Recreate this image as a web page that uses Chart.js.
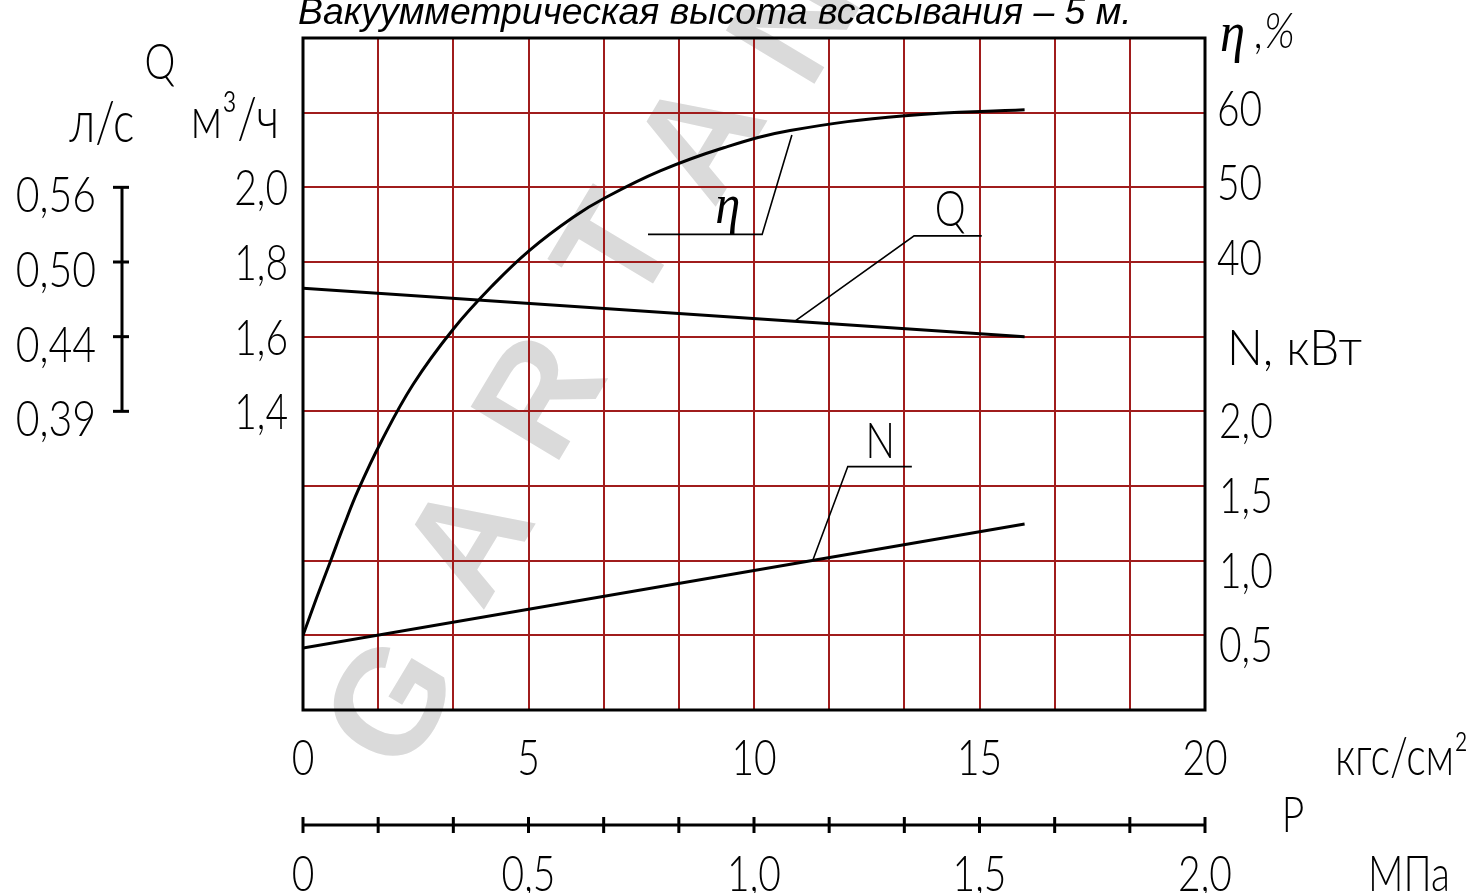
<!DOCTYPE html>
<html><head><meta charset="utf-8">
<script src="https://cdn.jsdelivr.net/npm/chart.js@4/dist/chart.umd.min.js"></script>
<style>html,body{margin:0;padding:0;background:#fff;overflow:hidden}#wrap{position:relative;width:1482px;height:893px}</style>
</head><body><div id="wrap"><canvas id="c" width="1482" height="893"></canvas></div>
<script>
// ---- data ----
const pressureEta = [0, 0.3, 0.62, 0.9, 1.22, 1.73, 2.44, 3.33, 4.21, 5.03, 5.99, 6.7, 7.92, 9.33, 10.8, 13.35, 16.0];
const efficiency  = [-10, -5.0, 0.1, 4.6, 9.4, 15.9, 23.6, 31.0, 36.9, 41.6, 46.0, 48.6, 52.2, 55.3, 57.6, 59.6, 60.4];
const pressureQ = [0, 16];
const flowQ     = [1.73, 1.60];
const pressureN = [0, 16];
const powerN    = [0.415, 1.245];

const pressureTicks = [0, 5, 10, 15, 20];
const mpaTicks      = [0, 0.5, 1.0, 1.5, 2.0];
const mpaTickLabels = ['0', '0,5', '1,0', '1,5', '2,0'];
const qTicks        = [2.0, 1.8, 1.6, 1.4];
const qTickLabels   = ['2,0', '1,8', '1,6', '1,4'];
const qLsLabels     = ['0,56', '0,50', '0,44', '0,39'];
const etaTicks      = [60, 50, 40];
const nTicks        = [2.0, 1.5, 1.0, 0.5];
const nTickLabels   = ['2,0', '1,5', '1,0', '0,5'];

// grid divisions (12 vertical, 9 horizontal)
const xGridValues = Array.from({length: 13}, (_, i) => i * 20 / 12);
const mpaMinor    = Array.from({length: 13}, (_, i) => i * 2 / 12);
const nGridValues = Array.from({length: 10}, (_, i) => i * 0.5);

// leader lines (data units)
const etaLeader = [[7.65, 43.7], [10.18, 43.7], [10.84, 57.0]];
const etaLabelAt = [9.42, 46.8];
const qLeader = [[10.9, 1.641], [13.55, 1.87], [15.05, 1.87]];
const qLabelAt = [14.35, 1.945];
const nLeader = [[11.3, 1.0], [12.08, 1.63], [13.5, 1.63]];
const nLabelAt = [12.8, 1.81];

const GRID = 'rgb(160,28,28)';
const FONT = "Lato, 'DejaVu Sans', sans-serif";

function txt(ctx, s, x, cy, o = {}) {
  const size = o.size || 50, sx = o.sx || 0.78;
  ctx.save();
  ctx.translate(x, cy + (o.dy !== undefined ? o.dy : 18));
  ctx.scale(sx, 1);
  ctx.font = `${o.style || 'normal'} ${o.weight || 300} ${size}px ${o.font || FONT}`;
  ctx.textAlign = o.align || 'center';
  ctx.textBaseline = 'alphabetic';
  ctx.fillStyle = o.color || '#000';
  ctx.fillText(s, 0, 0);
  ctx.restore();
}
function poly(ctx, pts, w) {
  ctx.save(); ctx.strokeStyle = '#000'; ctx.lineWidth = w; ctx.lineJoin = 'miter';
  ctx.beginPath(); pts.forEach((p, i) => i ? ctx.lineTo(p[0], p[1]) : ctx.moveTo(p[0], p[1])); ctx.stroke(); ctx.restore();
}

const watermark = {
  id: 'watermark',
  beforeDraw(chart) {
    const ctx = chart.ctx, a = chart.chartArea;
    const W = a.right - a.left, H = a.bottom - a.top;
    const letters = [['G', 0.105, 0.995], ['A', 0.19, 0.755], ['R', 0.27, 0.54], ['T', 0.355, 0.32], ['A', 0.447, 0.155], ['N', 0.553, -0.02]];
    ctx.save();
    ctx.fillStyle = 'rgb(218,218,218)';
    ctx.font = `bold 150px 'Liberation Sans', Arial, sans-serif`;
    ctx.textAlign = 'center'; ctx.textBaseline = 'middle';
    letters.forEach(([ch, fx, fy]) => {
      ctx.save();
      ctx.translate(a.left + fx * W, a.top + fy * H);
      ctx.rotate(-59 * Math.PI / 180);
      ctx.fillText(ch, 0, 0);
      ctx.restore();
    });
    ctx.restore();
  }
};

const decor = {
  id: 'decor',
  afterDraw(chart) {
    const ctx = chart.ctx, a = chart.chartArea;
    const {x, xM, yN, yEta, yQ} = chart.scales;
    // frame
    ctx.save(); ctx.strokeStyle = '#000'; ctx.lineWidth = 3;
    ctx.strokeRect(a.left, a.top, a.right - a.left, a.bottom - a.top); ctx.restore();

    // title
    ctx.save();
    ctx.font = "italic 36px 'Liberation Sans', Arial, sans-serif";
    const title = 'Вакуумметрическая высота всасывания – 5 м.';
    const w = ctx.measureText(title).width;
    const fs = 36 * 834 / w;
    ctx.font = `italic ${fs}px 'Liberation Sans', Arial, sans-serif`;
    ctx.fillStyle = '#000'; ctx.textAlign = 'left'; ctx.textBaseline = 'alphabetic';
    ctx.fillText(title, a.left - 5, a.top - 14);
    ctx.restore();

    // x (kgf/cm2) labels
    pressureTicks.forEach(v => txt(ctx, String(v), x.getPixelForValue(v), a.bottom + 47));
    txt(ctx, 'кгс/см²', a.right + 130, a.bottom + 47, {align: 'left', size: 53});

    // MPa scale
    const yM = a.bottom + 115;
    poly(ctx, [[xM.getPixelForValue(0), yM], [xM.getPixelForValue(2), yM]], 3);
    mpaMinor.forEach(v => { const px = xM.getPixelForValue(v); poly(ctx, [[px, yM - 8], [px, yM + 8]], 3); });
    mpaTicks.forEach((v, i) => txt(ctx, mpaTickLabels[i], xM.getPixelForValue(v), yM + 48));
    txt(ctx, 'P', a.right + 88, a.bottom + 104);
    txt(ctx, 'МПа', a.right + 163, yM + 48, {align: 'left'});

    // Q m3/h labels
    qTicks.forEach((v, i) => txt(ctx, qTickLabels[i], a.left - 15, yQ.getPixelForValue(v), {align: 'right'}));
    // Q l/s bar
    const barX = a.left - 181;
    poly(ctx, [[barX, yQ.getPixelForValue(qTicks[0])], [barX, yQ.getPixelForValue(qTicks[qTicks.length - 1])]], 3);
    qTicks.forEach((v, i) => {
      const py = yQ.getPixelForValue(v);
      poly(ctx, [[barX - 9, py], [barX + 7, py]], 3);
      txt(ctx, qLsLabels[i], barX - 26, py + 7, {align: 'right', sx: 0.82});
    });
    txt(ctx, 'Q', a.left - 143, a.top + 23);
    txt(ctx, 'л/с', a.left - 201, a.top + 86, {size: 58});
    txt(ctx, 'м³/ч', a.left - 68, a.top + 82, {size: 58});

    // right side: eta and N
    etaTicks.forEach(v => txt(ctx, String(v), a.right + 12, yEta.getPixelForValue(v) - 5, {align: 'left'}));
    nTicks.forEach((v, i) => txt(ctx, nTickLabels[i], a.right + 14, yN.getPixelForValue(v) + 9, {align: 'left'}));
    txt(ctx, 'N, кВт', a.right + 22, a.top + 309, {align: 'left', sx: 0.95});
    txt(ctx, 'η', a.right + 15, a.top - 5, {align: 'left', style: 'italic', font: "'Liberation Serif', serif", weight: 400, size: 56, sx: 0.9});
    txt(ctx, ',%', a.right + 50, a.top - 8, {align: 'left', style: 'italic', size: 50, sx: 0.85});

    // leaders
    poly(ctx, etaLeader.map(p => [x.getPixelForValue(p[0]), yEta.getPixelForValue(p[1])]), 1.6);
    poly(ctx, qLeader.map(p => [x.getPixelForValue(p[0]), yQ.getPixelForValue(p[1])]), 1.6);
    poly(ctx, nLeader.map(p => [x.getPixelForValue(p[0]), yN.getPixelForValue(p[1])]), 1.6);
    txt(ctx, 'η', x.getPixelForValue(etaLabelAt[0]), yEta.getPixelForValue(etaLabelAt[1]) - 6, {style: 'italic', font: "'Liberation Serif', serif", weight: 400, size: 56, sx: 0.9});
    txt(ctx, 'Q', x.getPixelForValue(qLabelAt[0]), yQ.getPixelForValue(qLabelAt[1]));
    txt(ctx, 'N', x.getPixelForValue(nLabelAt[0]), yN.getPixelForValue(nLabelAt[1]));
  }
};

const lineStyle = {borderColor: '#000', borderWidth: 3, pointRadius: 0, fill: false};
new Chart(document.getElementById('c'), {
  type: 'line',
  data: {
    datasets: [
      Object.assign({label: 'η', yAxisID: 'yEta', tension: 0.4,
        data: pressureEta.map((p, i) => ({x: p, y: efficiency[i]}))}, lineStyle),
      Object.assign({label: 'Q', yAxisID: 'yQ', tension: 0,
        data: pressureQ.map((p, i) => ({x: p, y: flowQ[i]}))}, lineStyle),
      Object.assign({label: 'N', yAxisID: 'yN', tension: 0,
        data: pressureN.map((p, i) => ({x: p, y: powerN[i]}))}, lineStyle)
    ]
  },
  options: {
    responsive: false, animation: false, events: [],
    layout: {padding: {left: 303, right: 277, top: 38, bottom: 183}},
    plugins: {legend: {display: false}, tooltip: {enabled: false}},
    scales: {
      x: {type: 'linear', min: 0, max: 20, position: 'bottom',
          afterBuildTicks: s => { s.ticks = xGridValues.map(v => ({value: v})); },
          ticks: {display: false}, grid: {color: GRID, lineWidth: 2, drawTicks: false}, border: {display: false}},
      xM: {type: 'linear', min: 0, max: 2, position: 'bottom', display: false},
      yN: {type: 'linear', min: 0, max: 4.5, position: 'right',
          afterBuildTicks: s => { s.ticks = nGridValues.map(v => ({value: v})); },
          ticks: {display: false}, grid: {color: GRID, lineWidth: 2, drawTicks: false}, border: {display: false}},
      yEta: {type: 'linear', min: -20, max: 70, position: 'right', display: false},
      yQ: {type: 'linear', min: 0.6, max: 2.4, position: 'left', display: false}
    }
  },
  plugins: [watermark, decor]
});
</script>
</body></html>
